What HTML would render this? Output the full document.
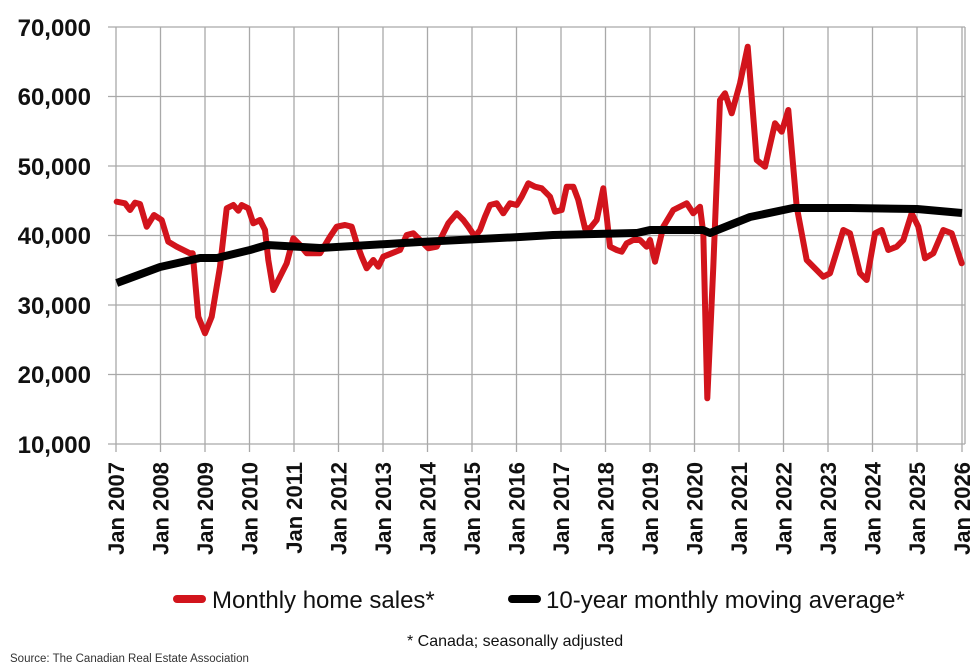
<!DOCTYPE html>
<html><head><meta charset="utf-8"><style>
html,body{margin:0;padding:0;background:#fff;}
svg{display:block;}
text{font-family:"Liberation Sans",sans-serif;}
</style></head><body>
<svg width="980" height="671" viewBox="0 0 980 671" xmlns="http://www.w3.org/2000/svg">
<g stroke="#a9a9a9" stroke-width="1.3" fill="none">
<path d="M108,27H965M108,96.5H965M108,166H965M108,235.5H965M108,305H965M108,374.5H965M108,444H965"/>
<path d="M116,27V452M160.5,27V452M205,27V452M249.5,27V452M294,27V452M338.5,27V452M383,27V452M427.5,27V452M472,27V452M516.5,27V452M561,27V452M605.5,27V452M650,27V452M694.5,27V452M739,27V452M783.5,27V452M828,27V452M872.5,27V452M917,27V452M962,27V452M965,27V444"/>
</g>
<g font-weight="bold" font-size="24" fill="#111" text-anchor="end">
<text x="91" y="36">70,000</text><text x="91" y="105">60,000</text><text x="91" y="175">50,000</text><text x="91" y="244">40,000</text><text x="91" y="314">30,000</text><text x="91" y="383">20,000</text><text x="91" y="453">10,000</text>
</g>
<g font-weight="bold" font-size="22" fill="#111" text-anchor="end">
<text transform="translate(124,462) rotate(-90)">Jan 2007</text>
<text transform="translate(168.5,462) rotate(-90)">Jan 2008</text>
<text transform="translate(213,462) rotate(-90)">Jan 2009</text>
<text transform="translate(257.5,462) rotate(-90)">Jan 2010</text>
<text transform="translate(302,462) rotate(-90)">Jan 2011</text>
<text transform="translate(346.5,462) rotate(-90)">Jan 2012</text>
<text transform="translate(391,462) rotate(-90)">Jan 2013</text>
<text transform="translate(435.5,462) rotate(-90)">Jan 2014</text>
<text transform="translate(480,462) rotate(-90)">Jan 2015</text>
<text transform="translate(524.5,462) rotate(-90)">Jan 2016</text>
<text transform="translate(569,462) rotate(-90)">Jan 2017</text>
<text transform="translate(613.5,462) rotate(-90)">Jan 2018</text>
<text transform="translate(658,462) rotate(-90)">Jan 2019</text>
<text transform="translate(702.5,462) rotate(-90)">Jan 2020</text>
<text transform="translate(747,462) rotate(-90)">Jan 2021</text>
<text transform="translate(791.5,462) rotate(-90)">Jan 2022</text>
<text transform="translate(836,462) rotate(-90)">Jan 2023</text>
<text transform="translate(880.5,462) rotate(-90)">Jan 2024</text>
<text transform="translate(925,462) rotate(-90)">Jan 2025</text>
<text transform="translate(970,462) rotate(-90)">Jan 2026</text>
</g>
<path fill="none" stroke="#d2141c" stroke-width="6" stroke-linejoin="round" stroke-linecap="round" d="M116.7,201.7L125,203.3L130,210L135,202.7L140,204L146.7,226.7L154,215L161.7,220L168.3,241.7L176.7,246.7L190,253.3L192.7,253.3L198.3,316.7L205,333.3L211.7,316.7L220,266.7L226.7,208.3L233.3,205L238.3,210.7L241.7,205L248.3,208.3L253.3,223.3L260,220L265,230L268.3,260L273.3,290L280,276.7L286.7,263.3L293.3,238.3L300,245L306.7,253.3L320,253.3L330,236.7L336.7,226.7L345,225L351.7,226.7L356.7,243.3L361.7,256.7L366.7,268.3L373.3,260L378.3,266.7L383.3,256.7L391.7,253.3L400,250L406.7,235L413.3,233.3L420,240L428.3,248.3L436.7,246.7L443.3,233.3L448.3,223.3L456.7,213.3L463.3,220L468.3,226.7L475,236.7L480,230L485,216.7L490,205L496.7,203.3L503.3,213.3L510,203.3L516.7,205L521.7,196.7L528.3,183.3L535,186.7L541.7,188.3L550,196.7L555,211.7L561.7,210L566.7,186.7L573.3,186.7L578.3,200L585,228.3L590,228.3L596.7,220L603.3,188.3L606.7,216.7L610,246.7L616.7,250L621.7,251.7L626.7,243.3L633.3,240L640,240L646.7,246.7L650,240L655,261.7L663.3,226.7L673.3,210L686.7,203.3L693.3,213.3L700,206.7L703.3,233.3L707.3,398.3L713.3,266.7L720,100L725,93.3L731.7,113.3L740,83.3L747.7,46.7L756.7,160L765,166.7L775,123.3L781.7,131.7L788.3,110L796.7,206.7L806.7,260L823.3,276.7L830,273.3L843.3,230L850,233.3L860,273.3L866.7,280L875,233.3L881.7,230L888.3,250L896.7,246.7L903.3,240L911.7,213.3L918.3,226.7L925,258.3L933.3,253.3L943.3,230L951.7,233.3L961.7,263.3"/>
<path fill="none" stroke="#000" stroke-width="8" stroke-linejoin="round" d="M116.7,283L160,267L200,258L217,258L250,250L267,245L320,248L420,242L520,237L553,235L637,233L650,230L703,230L710,233L750,217L793,208L850,208L917,209L962,213"/>
<line x1="177" y1="599" x2="202" y2="599" stroke="#d2141c" stroke-width="8" stroke-linecap="round"/>
<text x="212" y="608" font-size="24" fill="#111">Monthly home sales*</text>
<line x1="512" y1="599" x2="537" y2="599" stroke="#000" stroke-width="8" stroke-linecap="round"/>
<text x="546" y="608" font-size="24" fill="#111">10-year monthly moving average*</text>
<text x="407" y="646" font-size="16" fill="#111">* Canada; seasonally adjusted</text>
<text x="10" y="662" font-size="11.5" fill="#333">Source: The Canadian Real Estate Association</text>
</svg>
</body></html>
